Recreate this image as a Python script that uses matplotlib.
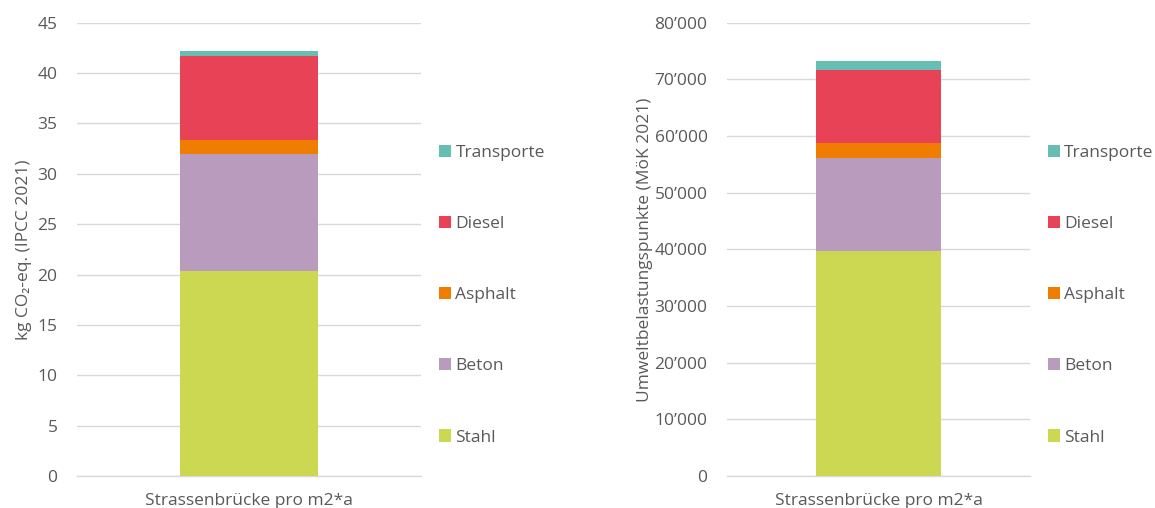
import matplotlib
matplotlib.use("Agg")
import matplotlib.pyplot as plt
from matplotlib.ticker import FuncFormatter, MultipleLocator
from matplotlib.patches import Patch

plt.rcParams['font.family'] = ['Open Sans', 'DejaVu Sans']

category = ["Strassenbrücke pro m2*a"]
components = ["Stahl", "Beton", "Asphalt", "Diesel", "Transporte"]
co2_values = [20.4, 11.55, 1.45, 8.3, 0.47]
ubp_values = [39700, 16400, 2650, 12900, 1600]
colors = ["#CCD752", "#B99BBD", "#EF7D00", "#E84256", "#66BFB2"]

text_color = "#595959"
grid_color = "#D9D9D9"
fs = 12.5

fig = plt.figure(figsize=(11.55, 5.08), dpi=100)
ax1 = fig.add_axes([77/1155, 32/508, 344/1155, 453.3/508])
ax2 = fig.add_axes([727/1155, 32/508, 303/1155, 453.3/508])


def draw(ax, values, ylim, step, width, ylabel, fmt, leg_x, labelpad):
    bottom = 0
    for name, v, c in zip(components, values, colors):
        ax.bar(category, [v], bottom=bottom, color=c, width=width, label=name, zorder=3)
        bottom += v
    ax.set_xlim(-0.5, 0.5)
    ax.set_ylim(0, ylim)
    ax.yaxis.set_major_locator(MultipleLocator(step))
    ax.yaxis.set_major_formatter(FuncFormatter(fmt))
    ax.grid(axis='y', color=grid_color, linewidth=1.0, zorder=0)
    for s in ["top", "right", "left"]:
        ax.spines[s].set_visible(False)
    ax.spines["bottom"].set_color(grid_color)
    ax.spines["bottom"].set_linewidth(1.0)
    ax.tick_params(axis='both', length=0, labelsize=fs, colors=text_color)
    ax.tick_params(axis='y', pad=14)
    ax.tick_params(axis='x', pad=12)
    ax.set_ylabel(ylabel, fontsize=fs, color=text_color, labelpad=labelpad)
    handles = [Patch(facecolor=c, label=n) for n, c in zip(components, colors)][::-1]
    ax.legend(handles=handles, loc='center left', bbox_to_anchor=(leg_x, 0.399),
              frameon=False, fontsize=fs, labelcolor=text_color,
              handlelength=0.7, handleheight=0.7, handletextpad=0.25,
              labelspacing=3.17, borderaxespad=0, borderpad=0)


def fmt_co2(x, pos):
    return f"{int(round(x))}"


def fmt_ubp(x, pos):
    v = int(round(x))
    return f"{v:,}".replace(",", "\u2019")


draw(ax1, co2_values, 45, 5, 0.404, "kg CO\u2082-eq. (IPCC 2021)", fmt_co2, 1.052, 4)
draw(ax2, ubp_values, 80000, 10000, 0.41, "Umweltbelastungspunkte (MöK 2021)", fmt_ubp, 1.059, 1)

fig.savefig("out.png", dpi=100)
